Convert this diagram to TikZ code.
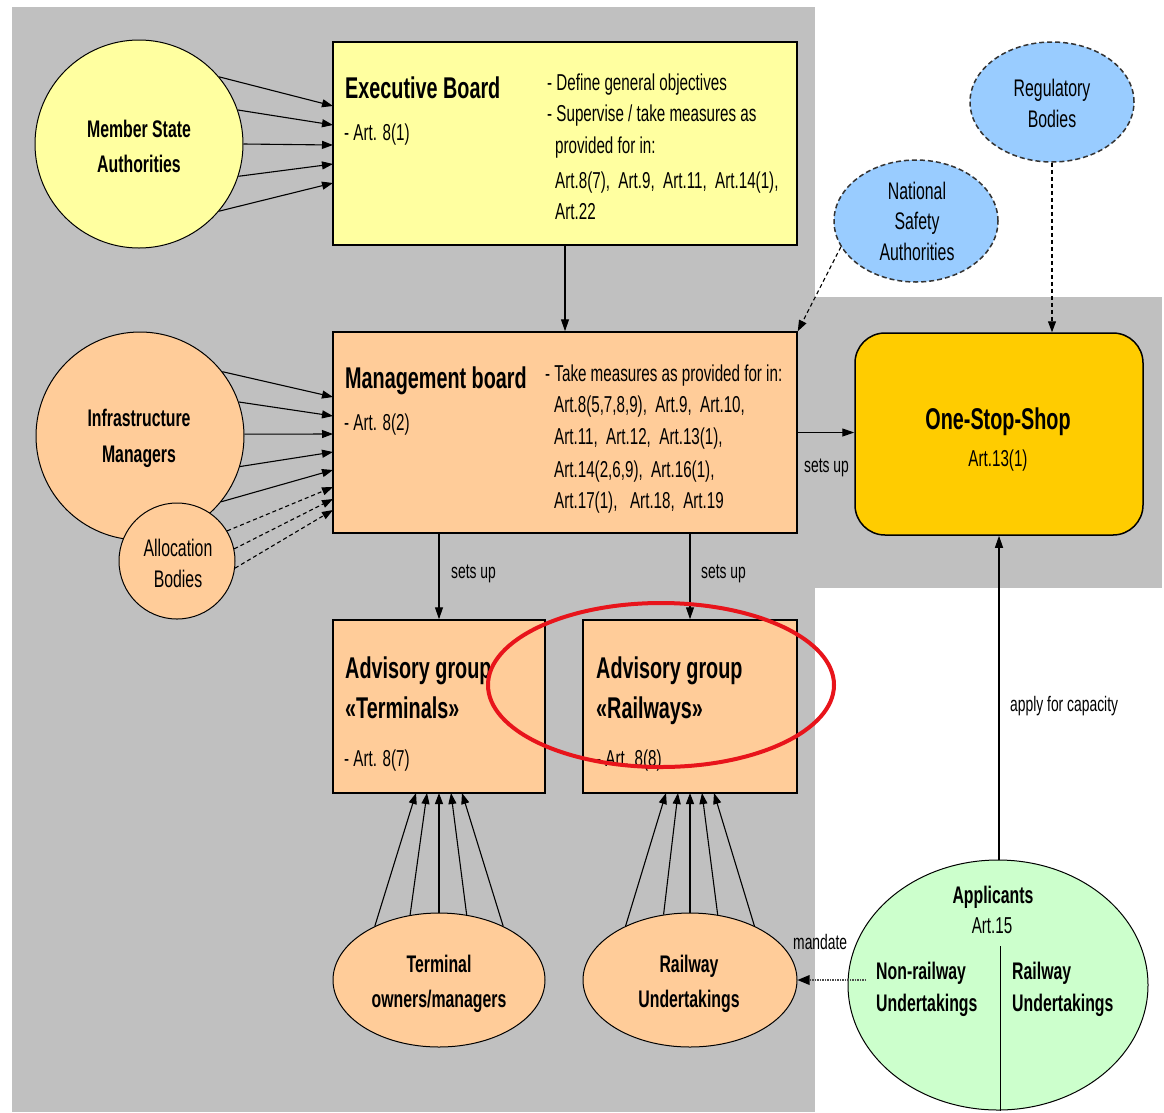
\documentclass[tikz,border=0pt]{standalone}
\usepackage{fontspec}
\setmainfont{Liberation Sans}[FakeStretch=0.66]
\usetikzlibrary{arrows.meta,shapes.geometric}
\definecolor{bggray}{HTML}{C0C0C0}
\definecolor{lyel}{HTML}{FFFFA0}
\definecolor{lora}{HTML}{FFCC99}
\definecolor{gold}{HTML}{FFCC00}
\definecolor{lblue}{HTML}{99CCFF}
\definecolor{lgreen}{HTML}{CCFFCC}
\definecolor{ringred}{HTML}{E8141B}
\tikzset{
  box/.style={draw=black, line width=1.5pt, inner sep=0pt},
  oval/.style={draw=black, line width=1pt, ellipse, inner sep=0pt},
  disc/.style={draw=black, line width=1pt, circle, inner sep=0pt},
  dashoval/.style={draw=black!80, line width=1.5pt, ellipse, inner sep=0pt, dash pattern=on 5pt off 3pt},
  txt/.style={inner sep=0pt, font=\fontsize{23}{25}\selectfont},
  ttl/.style={inner sep=0pt, font=\fontsize{30}{32}\selectfont\bfseries},
  lbl/.style={inner sep=0pt, font=\fontsize{24}{26}\selectfont\bfseries},
  rlbl/.style={inner sep=0pt, font=\fontsize{24}{26}\selectfont},
  sml/.style={inner sep=0pt, font=\fontsize{21}{23}\selectfont},
  arr/.style={-{Triangle[length=11pt,width=8pt]}, line width=1.1pt},
  darr/.style={-{Triangle[length=11pt,width=8pt]}, line width=1.1pt, dash pattern=on 4pt off 3pt},
  bigarr/.style={-{Triangle[length=12pt,width=8pt]}, line width=1.2pt},
}
\begin{document}
\begin{tikzpicture}[x=1pt,y=-1pt]
\useasboundingbox (0,0) rectangle (1164,1112);
% backgrounds
\fill[bggray] (12,7) rectangle (815,1112);
\fill[bggray] (815,297) rectangle (1162,588);

% main boxes
\node[box, fill=lyel, minimum width=464pt, minimum height=203pt] (eb) at (565,143.5) {};
\node[box, fill=lora, minimum width=464pt, minimum height=201pt] (mb) at (565,432.5) {};
\node[box, fill=lora, minimum width=212pt, minimum height=173pt] (agt) at (439,706.5) {};
\node[box, fill=lora, minimum width=214pt, minimum height=173pt] (agr) at (690,706.5) {};
\node[box, fill=gold, rounded corners=30pt, minimum width=288pt, minimum height=202pt] (oss) at (999,434) {};

% circles and ellipses
\node[disc, fill=lyel, minimum size=208pt] (msa) at (139,144) {};
\node[disc, fill=lora, minimum size=208pt] (im) at (140,436) {};
\node[disc, fill=lora, minimum size=116pt] (ab) at (177,561) {};
\node[dashoval, fill=lblue, minimum width=164pt, minimum height=122pt] (nsa) at (916,221) {};
\node[dashoval, fill=lblue, minimum width=164pt, minimum height=120pt] (rb) at (1052,102) {};
\node[oval, fill=lora, minimum width=212pt, minimum height=134pt] (tom) at (439,980) {};
\node[oval, fill=lora, minimum width=214pt, minimum height=134pt] (ru) at (690,980) {};
\node[oval, fill=lgreen, minimum width=300pt, minimum height=250pt] (app) at (998,985) {};

% texts: Executive board
\node[ttl, anchor=base west] (ebt) at (345,98) {Executive Board};
\node[txt, anchor=base west] (eba) at (344,140) {- Art. 8(1)};
\node[txt, anchor=base west] (ebr1) at (547,90) {- Define general objectives};
\node[txt, anchor=base west] (ebr2) at (547,121) {- Supervise / take measures as};
\node[txt, anchor=base west] (ebr3) at (555,153) {provided for in:};
\node[txt, anchor=base west] (ebr4) at (555,188) {Art.8(7),\ \ Art.9,\ \ Art.11,\ \ Art.14(1),};
\node[txt, anchor=base west] (ebr5) at (555,219) {Art.22};

% Management board
\node[ttl, anchor=base west] (mbt) at (345,388) {Management board};
\node[txt, anchor=base west] (mba) at (344,430) {- Art. 8(2)};
\node[txt, anchor=base west] (mbr1) at (545,381) {- Take measures as provided for in:};
\node[txt, anchor=base west] (mbr2) at (554,412) {Art.8(5,7,8,9),\ \ Art.9,\ \ Art.10,};
\node[txt, anchor=base west] (mbr3) at (554,444) {Art.11,\ \ Art.12,\ \ Art.13(1),};
\node[txt, anchor=base west] (mbr4) at (554,477) {Art.14(2,6,9),\ \ Art.16(1),};
\node[txt, anchor=base west] (mbr5) at (554,508) {Art.17(1),\ \ \ Art.18,\ \ Art.19};

% Advisory groups
\node[ttl, anchor=base west] (agt1) at (345,678) {Advisory group};
\node[ttl, anchor=base west] (agt2) at (345,718) {«Terminals»};
\node[txt, anchor=base west] (agt3) at (344,766) {- Art. 8(7)};
\node[ttl, anchor=base west] (agr1) at (596,678) {Advisory group};
\node[ttl, anchor=base west] (agr2) at (596,718) {«Railways»};
\node[txt, anchor=base west] (agr3) at (596,766) {- Art. 8(8)};

% One-stop-shop
\node[ttl, anchor=base] (osst) at (998,429) {One-Stop-Shop};
\node[txt, anchor=base] (ossa) at (998,466) {Art.13(1)};

% circle texts
\node[lbl, anchor=base] (msa1) at (139,137) {Member State};
\node[lbl, anchor=base] (msa2) at (139,172) {Authorities};
\node[lbl, anchor=base] (im1) at (139,426) {Infrastructure};
\node[lbl, anchor=base] (im2) at (139,462) {Managers};
\node[rlbl, anchor=base] (ab1) at (178,556) {Allocation};
\node[rlbl, anchor=base] (ab2) at (178,587) {Bodies};
\node[rlbl, anchor=base] (nsa1) at (917,199) {National};
\node[rlbl, anchor=base] (nsa2) at (917,229) {Safety};
\node[rlbl, anchor=base] (nsa3) at (917,260) {Authorities};
\node[rlbl, anchor=base] (rb1) at (1052,96) {Regulatory};
\node[rlbl, anchor=base] (rb2) at (1052,127) {Bodies};
\node[lbl, anchor=base] (tom1) at (439,972) {Terminal};
\node[lbl, anchor=base] (tom2) at (439,1007) {owners/managers};
\node[lbl, anchor=base] (ru1) at (689,972) {Railway};
\node[lbl, anchor=base] (ru2) at (689,1007) {Undertakings};
\node[lbl, anchor=base] (app1) at (993,903) {Applicants};
\node[txt, anchor=base] (app2) at (992,933) {Art.15};
\node[lbl, anchor=base west] (app3) at (876,979) {Non-railway};
\node[lbl, anchor=base west] (app4) at (876,1011) {Undertakings};
\node[lbl, anchor=base west] (app5) at (1012,979) {Railway};
\node[lbl, anchor=base west] (app6) at (1012,1011) {Undertakings};

% connector labels
\node[sml, anchor=base west] (su1) at (451,578) {sets up};
\node[sml, anchor=base west] (su2) at (701,578) {sets up};
\node[sml, anchor=base west] (su3) at (804,472) {sets up};
\node[sml, anchor=base west] (mand) at (793,949) {mandate};
\node[sml, anchor=base west] (afc) at (1010,711) {apply for capacity};

% arrow end coordinates
\coordinate (e1) at (333,106);
\coordinate (e2) at (333,125);
\coordinate (e3) at (333,145);
\coordinate (e4) at (333,164);
\coordinate (e5) at (333,183);
\coordinate (m1) at (333,397);
\coordinate (m2) at (333,416);
\coordinate (m3) at (333,434);
\coordinate (m4) at (333,452);
\coordinate (m5) at (333,470);
\coordinate (m6) at (333,487);
\coordinate (m7) at (333,499);
\coordinate (m8) at (333,510);
\coordinate (t1) at (416,793);
\coordinate (t2) at (427,793);
\coordinate (t3) at (439,793);
\coordinate (t4) at (451,793);
\coordinate (t5) at (462,793);
\coordinate (r1) at (666,793);
\coordinate (r2) at (678,793);
\coordinate (r3) at (690,793);
\coordinate (r4) at (702,793);
\coordinate (r5) at (714,793);
\coordinate (mandstart) at (866,980);
\coordinate (divtop) at (1000,946);
\coordinate (appx) at (999,860);

% Member State -> Executive Board
\draw[arr] (msa.40) -- (e1);
\draw[arr] (msa.19) -- (e2);
\draw[arr] (msa.0) -- (e3);
\draw[arr] (msa.-18) -- (e4);
\draw[arr] (msa.-40) -- (e5);
% Infrastructure managers -> Management board
\draw[arr] (im.38) -- (m1);
\draw[arr] (im.19) -- (m2);
\draw[arr] (im.1) -- (m3);
\draw[arr] (im.-17) -- (m4);
\draw[arr] (im.-39) -- (m5);
% Allocation bodies -> Management board
\draw[darr] (ab.31) -- (m6);
\draw[darr] (ab.12) -- (m7);
\draw[darr] (ab.-7) -- (m8);

% Executive -> Management
\draw[bigarr] (eb.south) -- (mb.north);
% Management -> OSS
\draw[bigarr] (mb.east) -- (oss.west |- mb.east);
% sets up
\draw[bigarr] (agt.north |- mb.south) -- (agt.north);
\draw[bigarr] (agr.north |- mb.south) -- (agr.north);
% NSA and RB
\draw[darr] (nsa.199) -- (mb.north east);
\draw[darr] (rb.south) -- (rb.south |- oss.north);

% Terminal owners -> AG terminals
\draw[arr] (tom.140) -- (t1);
\draw[arr] (tom.114) -- (t2);
\draw[arr] (tom.90) -- (t3);
\draw[arr] (tom.67) -- (t4);
\draw[arr] (tom.40) -- (t5);
% Railway undertakings -> AG railways
\draw[arr] (ru.140) -- (r1);
\draw[arr] (ru.112) -- (r2);
\draw[arr] (ru.90) -- (r3);
\draw[arr] (ru.67) -- (r4);
\draw[arr] (ru.40) -- (r5);

% mandate
\draw[black!70, line width=1.6pt, dash pattern=on 1.5pt off 1pt, -{Triangle[length=12pt,width=10pt,color=black,line width=0pt]}] (mandstart) -- (ru.east);
% apply for capacity
\draw[bigarr] (appx) -- (appx |- oss.south);
% applicants divider
\draw[line width=1pt] (divtop) -- (divtop |- app.south);

% red ring
\node[draw=ringred, line width=4pt, ellipse, inner sep=0pt, minimum width=346pt, minimum height=164pt] (ring) at (661,685) {};
\end{tikzpicture}
\end{document}
